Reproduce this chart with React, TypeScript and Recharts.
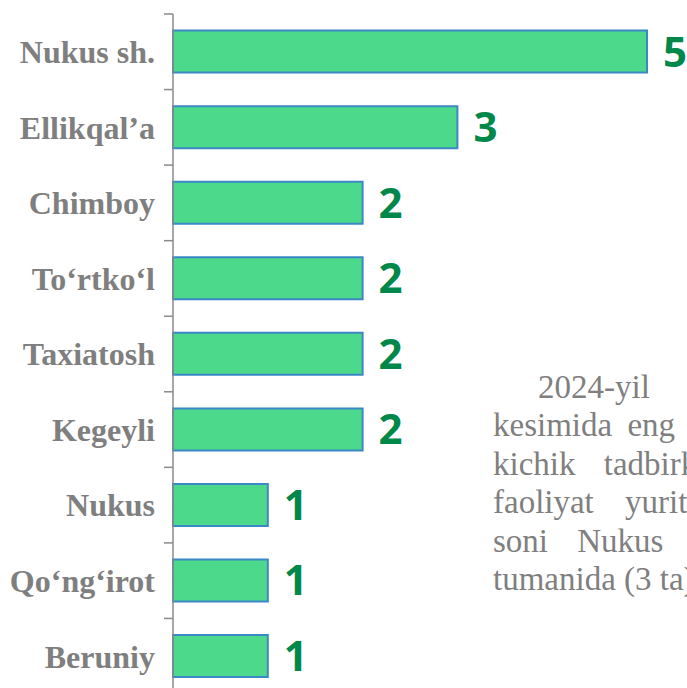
import { BarChart, Bar, XAxis, YAxis, LabelList } from "recharts";

const districts = [
  "Nukus sh.",
  "Ellikqal’a",
  "Chimboy",
  "To‘rtko‘l",
  "Taxiatosh",
  "Kegeyli",
  "Nukus",
  "Qo‘ng‘irot",
  "Beruniy",
];
const counts = [5, 3, 2, 2, 2, 2, 1, 1, 1];

// side note text, one entry per printed line (cut at the right edge like the source)
const noteLines = [
  "2024-yil",
  "kesimida eng",
  "kichik tadbirkorlik",
  "faoliyat yuritayotgan",
  "soni Nukus",
  "tumanida (3 ta)",
];
const noteIndent = [45, 0, 0, 0, 0, 0];
const noteSpacing = [0, 7, 20, 23, 21, 0];

const data = districts.map((name, i) => ({ name, value: counts[i] }));

const W = 720;
const H = 708;
const TOP = 14;
const BOTTOM = 14;
const band = (H - TOP - BOTTOM) / districts.length;

const CategoryTick = (props: any) => {
  const { x, y, payload, index } = props;
  const axisX = x + 18;
  return (
    <g>
      <line x1={axisX - 9} x2={axisX} y1={y - band / 2} y2={y - band / 2} stroke="#8a8a8a" strokeWidth={1.5} />
      {index === districts.length - 1 && (
        <line x1={axisX - 9} x2={axisX} y1={y + band / 2} y2={y + band / 2} stroke="#8a8a8a" strokeWidth={1.5} />
      )}
      <text
        x={x}
        y={y}
        dy="0.355em"
        textAnchor="end"
        fill="#7f7f7f"
        fontFamily="'Liberation Serif', 'Times New Roman', serif"
        fontWeight="bold"
        fontSize={32}
      >
        {payload.value}
      </text>
    </g>
  );
};

export default function App() {
  return (
    <div style={{ position: "absolute", left: 0, top: 0, width: 687, height: 688, overflow: "hidden" }}>
      <BarChart
        width={W}
        height={H}
        data={data}
        layout="vertical"
        margin={{ top: TOP, right: W - 647, bottom: BOTTOM, left: 0 }}
        barCategoryGap="22%"
      >
        <XAxis type="number" domain={[0, 5]} hide />
        <YAxis
          type="category"
          dataKey="name"
          width={173}
          axisLine={{ stroke: "#8a8a8a", strokeWidth: 1.5 }}
          tickLine={false}
          tickSize={0}
          tickMargin={18}
          interval={0}
          tick={<CategoryTick />}
        />
        <Bar dataKey="value" fill="#4cd98c" stroke="#3a88c6" strokeWidth={2} isAnimationActive={false}>
          <LabelList
            dataKey="value"
            position="right"
            offset={16}
            fill="#00874a"
            fontFamily="'Open Sans', sans-serif"
            fontWeight="bold"
            fontSize={42}
          />
        </Bar>
      </BarChart>
      <svg width={687} height={688} style={{ position: "absolute", left: 0, top: 0 }}>
        {noteLines.map((line, i) => (
          <text
            key={i}
            x={493 + noteIndent[i]}
            y={398 + i * 38.4}
            fill="#7f7f7f"
            fontFamily="'Liberation Serif', 'Times New Roman', serif"
            fontSize={33}
            wordSpacing={noteSpacing[i]}
          >
            {line}
          </text>
        ))}
      </svg>
    </div>
  );
}
